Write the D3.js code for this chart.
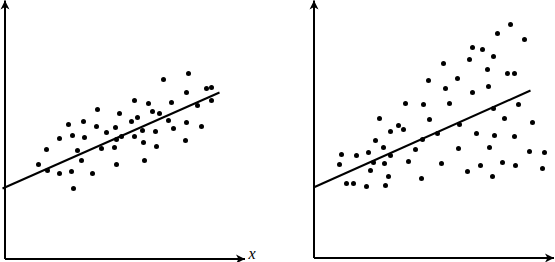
<!DOCTYPE html>
<html lang="en">
<head>
    <meta charset="UTF-8">
    <title>Scatter with fitted line</title>
    <script src="https://cdn.jsdelivr.net/npm/d3@7"></script>
    <style>
        body { margin: 0; background: #fff; }
        svg { display: block; }
    </style>
</head>
<body>
<script>
    // left panel: points close to the line
    const leftX = [130, 93, 115, 64, 79, 92, 111, 127, 133, 68, 80, 55, 102, 112, 117, 130, 42, 73, 97, 110,
        34, 77, 112, 43, 55, 67, 88, 69, 184, 159, 182, 202, 207, 144, 167, 193, 207, 148, 155, 164,
        169, 182, 197, 138, 151, 139, 152, 181, 140]
    const leftY = [158, 149, 145, 134, 137, 132, 131, 137, 141, 123, 121, 120, 126, 119, 122, 122, 109, 108, 110, 111,
        94, 98, 94, 88, 85, 87, 85, 70, 185, 179, 166, 170, 171, 155, 156, 153, 158, 147, 145, 138,
        130, 136, 132, 128, 127, 116, 112, 118, 98]

    // right panel: points spreading out as x grows
    const rightX = [115, 92, 110, 116, 66, 77, 85, 90, 62, 70, 102, 109, 28, 43, 55, 77, 26, 60, 71, 95,
        57, 75, 108, 33, 40, 53, 72, 197, 184, 211, 159, 169, 180, 156, 130, 174, 194, 201, 144, 132,
        159, 175, 136, 205, 180, 191, 219, 146, 124, 163, 181, 201, 145, 176, 216, 231, 128, 154, 167,
        189, 202, 229, 179]
    const rightY = [177, 154, 153, 138, 139, 126, 132, 128, 117, 110, 108, 118, 103, 102, 105, 102, 93, 95, 94, 96,
        87, 81, 79, 74, 74, 71, 72, 233, 224, 218, 210, 208, 201, 198, 194, 188, 184, 184, 179, 169,
        165, 171, 154, 153, 149, 139, 135, 133, 124, 124, 122, 121, 109, 110, 106, 105, 94, 86, 92,
        95, 92, 89, 81]

    // fitted lines (start and end)
    const leftLineX = [-2, 215]
    const leftLineY = [70, 166]
    const rightLineX = [0, 217]
    const rightLineY = [70, 167]

    const width = 555
    const height = 262

    const svg = d3.select('body').append('svg')
        .attr('width', width)
        .attr('height', height)

    svg.append('defs').append('marker')
        .attr('id', 'arrow')
        .attr('viewBox', '-9 -5 10 10')
        .attr('refX', 0)
        .attr('refY', 0)
        .attr('markerWidth', 10)
        .attr('markerHeight', 10)
        .attr('markerUnits', 'userSpaceOnUse')
        .attr('orient', 'auto')
        .append('path')
        .attr('d', 'M-9,-4.5L0,0L-9,4.5L-6.5,0Z')
        .attr('fill', '#000')

    function drawPanel(ox, oy, xs, ys, lx, ly, label) {
        const xScale = d3.scaleLinear().domain([0, 240]).range([ox, ox + 240])
        const yScale = d3.scaleLinear().domain([0, oy]).range([oy, 0])

        const g = svg.append('g')

        g.append('g')
            .attr('transform', `translate(0, ${oy})`)
            .call(d3.axisBottom(xScale).tickValues([]).tickSizeOuter(0))
        g.append('g')
            .attr('transform', `translate(${ox}, 0)`)
            .call(d3.axisLeft(yScale).tickValues([]).tickSizeOuter(0))

        g.selectAll('.domain')
            .attr('stroke', '#000')
            .attr('stroke-width', 2)
            .attr('marker-end', 'url(#arrow)')

        const pts = xs.map((x, i) => [x, ys[i]])
        g.selectAll('circle')
            .data(pts)
            .enter()
            .append('circle')
            .attr('cx', d => xScale(d[0]))
            .attr('cy', d => yScale(d[1]))
            .attr('r', 2.5)
            .attr('fill', '#000')

        g.append('line')
            .attr('x1', xScale(lx[0]))
            .attr('y1', yScale(ly[0]))
            .attr('x2', xScale(lx[1]))
            .attr('y2', yScale(ly[1]))
            .attr('stroke', '#000')
            .attr('stroke-width', 2)

        if (label) {
            g.append('text')
                .attr('x', xScale(240) + 4)
                .attr('y', oy)
                .attr('fill', '#000')
                .attr('font-family', 'Liberation Serif, serif')
                .attr('font-style', 'italic')
                .attr('font-size', 16)
                .text(label)
        }
    }

    drawPanel(4.5, 258.5, leftX, leftY, leftLineX, leftLineY, 'x')
    drawPanel(313.5, 257.5, rightX, rightY, rightLineX, rightLineY, '')
</script>
</body>
</html>
